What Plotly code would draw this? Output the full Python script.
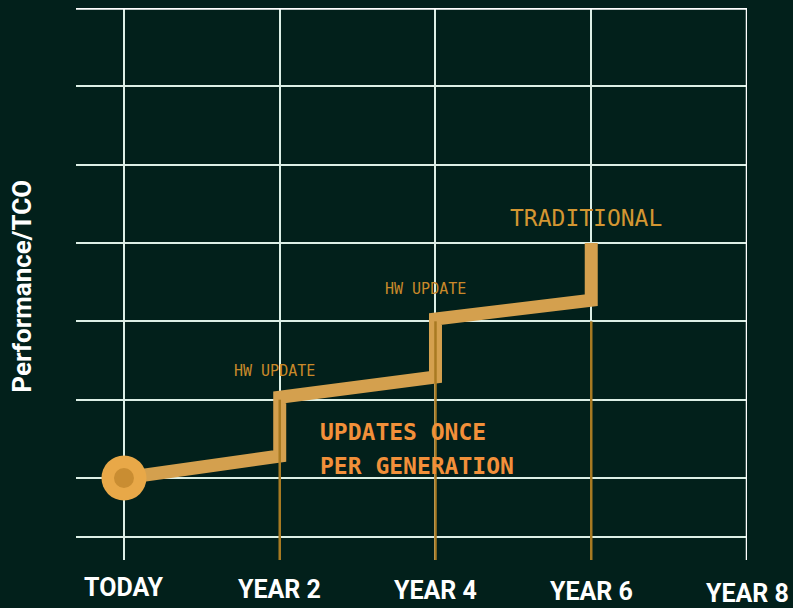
import plotly.graph_objects as go

# ---- data ----
years = [0, 2, 4, 6]
before_update = [1.0, 1.28, 2.29, 3.27]   # perf/TCO just before each HW update
after_update = [1.0, 2.03, 3.03, 4.0]     # perf/TCO right after each HW update
guide_top = [2.0, 3.0, 3.0]               # where the gold guide lines start (years 2,4,6)
tick_vals = [0, 2, 4, 6, 8]
tick_text = ["TODAY", "YEAR 2", "YEAR 4", "YEAR 6", "YEAR 8"]
tick_y = [-0.0500, -0.0535, -0.0550, -0.0565, -0.0600]   # paper coords (staggered labels)

BG = "#02201b"
GRID = "#dcefe6"
LINE = "#d4a04e"
GOLD = "#a87a22"

# build step path
px, py = [years[0]], [after_update[0]]
for i in range(1, len(years)):
    px += [years[i], years[i]]
    py += [before_update[i], after_update[i]]

fig = go.Figure()

# gold guide lines
for x, top in zip(years[1:], guide_top):
    fig.add_shape(type="line", x0=x, x1=x, y0=top, y1=-0.1, xref="x", yref="y",
                  line=dict(color=GOLD, width=2.5), layer="above")

fig.add_trace(go.Scatter(x=px, y=py, mode="lines",
                         line=dict(color=LINE, width=13), hoverinfo="skip"))
fig.add_trace(go.Scatter(x=[years[0]], y=[after_update[0]], mode="markers",
                         marker=dict(size=45, color="#e8a848"), hoverinfo="skip"))
fig.add_trace(go.Scatter(x=[years[0]], y=[after_update[0]], mode="markers",
                         marker=dict(size=20, color="#c98d32"), hoverinfo="skip"))

# extra bottom gridline, top border, right border
fig.add_shape(type="line", x0=-0.616, x1=8, y0=0.247, y1=0.247, xref="x", yref="y",
              line=dict(color=GRID, width=2), layer="below")
fig.add_shape(type="line", x0=-0.616, x1=8, y0=7.0, y1=7.0, xref="x", yref="y",
              line=dict(color="#ffffff", width=3.5), layer="above")
fig.add_shape(type="line", x0=8, x1=8, y0=-0.047, y1=7.0, xref="x", yref="y",
              line=dict(color="#ffffff", width=2.5), layer="above")

ann = []
for v, t, ty in zip(tick_vals, tick_text, tick_y):
    ann.append(dict(x=(v + 0.616) / 8.616, y=ty, xref="paper", yref="paper", text=t,
                    showarrow=False, xanchor="center", yanchor="middle",
                    font=dict(family="Roboto", size=25, color="#ffffff", weight="bold")))

ann.append(dict(x=-0.0805, y=0.497, xref="paper", yref="paper", text="Performance/TCO",
                textangle=-90, showarrow=False, xanchor="center", yanchor="middle",
                font=dict(family="Roboto", size=26, color="#ffffff", weight="bold")))
ann.append(dict(x=5.93, y=4.32, xref="x", yref="y", text="TRADITIONAL", showarrow=False,
                xanchor="center", yanchor="middle",
                font=dict(family="DejaVu Sans Mono", size=23, color="#d39632")))
ann.append(dict(x=1.93, y=2.37, xref="x", yref="y", text="HW UPDATE", showarrow=False,
                xanchor="center", yanchor="middle",
                font=dict(family="DejaVu Sans Mono", size=15, color="#c9892a")))
ann.append(dict(x=3.87, y=3.41, xref="x", yref="y", text="HW UPDATE", showarrow=False,
                xanchor="center", yanchor="middle",
                font=dict(family="DejaVu Sans Mono", size=15, color="#c9892a")))
ann.append(dict(x=2.49, y=1.59, xref="x", yref="y", text="UPDATES ONCE", showarrow=False,
                xanchor="left", yanchor="middle",
                font=dict(family="DejaVu Sans Mono", size=23, color="#f2903a", weight="bold")))
ann.append(dict(x=2.49, y=1.147, xref="x", yref="y", text="PER GENERATION", showarrow=False,
                xanchor="left", yanchor="middle",
                font=dict(family="DejaVu Sans Mono", size=23, color="#f2903a", weight="bold")))

fig.update_layout(
    width=793, height=608,
    margin=dict(l=76, r=46, t=8, b=48),
    paper_bgcolor=BG, plot_bgcolor=BG,
    showlegend=False,
    annotations=ann,
    xaxis=dict(range=[-0.616, 8], tickvals=[0, 2, 4, 6], showticklabels=False,
               showgrid=True, gridcolor=GRID, gridwidth=2, zeroline=False,
               showline=False, ticks=""),
    yaxis=dict(range=[-0.047, 7.0], tickvals=[1, 2, 3, 4, 5, 6], showticklabels=False,
               showgrid=True, gridcolor=GRID, gridwidth=2, zeroline=False,
               showline=False, ticks=""),
)

fig.write_html("out.html",
               config={"displayModeBar": False},
               post_script="document.body.style.margin='0';"
                           "document.body.style.background='" + BG + "';"
                           "document.body.style.overflow='hidden';")
